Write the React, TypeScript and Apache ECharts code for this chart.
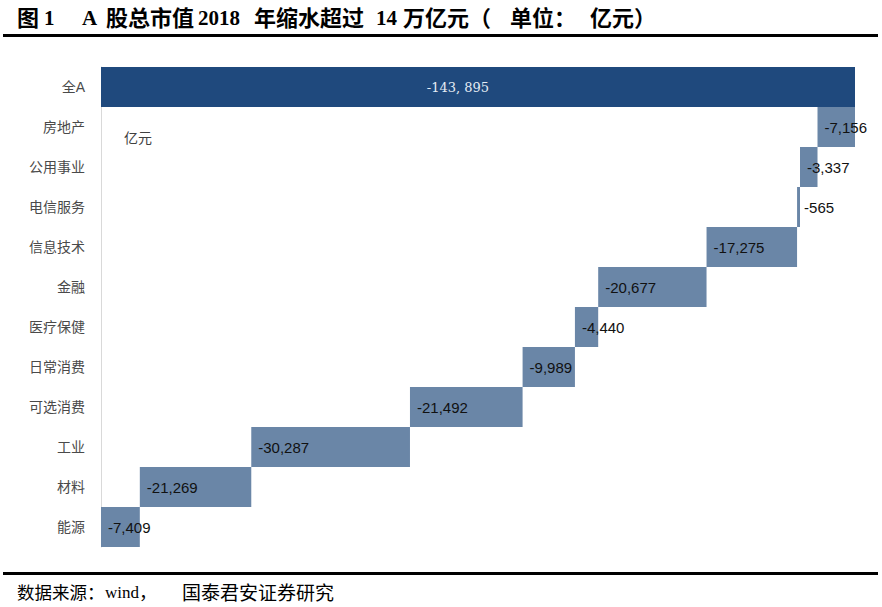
import React, { useEffect, useRef } from 'react';
import * as echarts from 'echarts';

const categories = ['全A', '房地产', '公用事业', '电信服务', '信息技术', '金融', '医疗保健', '日常消费', '可选消费', '工业', '材料', '能源'];
const changes = [-143895, -7156, -3337, -565, -17275, -20677, -4440, -9989, -21492, -30287, -21269, -7409];

// title / source split into runs so the spacing follows the original typesetting
const titleRuns: [string, number, number][] = [
  ['图', 17, 22], ['1', 44, 21], ['A', 82, 21], ['股总市值', 106, 22], ['2018', 198, 21],
  ['年缩水超过', 254, 22], ['14', 376, 21], ['万亿元（', 403, 22], ['单位：', 510, 22], ['亿元）', 590, 22],
];
const sourceRuns: [string, number, number][] = [
  ['数据来源：', 17, 17.5], ['wind', 105, 17], ['，', 139, 18], ['国泰君安证券研究', 182, 19],
];
const UNIT = '亿元';

const SERIF = "'Liberation Serif', 'Times New Roman', 'Noto Sans CJK SC', serif";
const SANS = "'Liberation Sans', Arial, 'Noto Sans CJK SC', sans-serif";

const App: React.FC = () => {
  const chartRef = useRef<HTMLDivElement>(null);

  useEffect(() => {
    if (!chartRef.current) return;
    const chart = echarts.init(chartRef.current, undefined, { renderer: 'svg' });

    // waterfall: each sector starts where the sectors below it end
    const base = categories.map((_, i) => {
      if (i === 0) return 0;
      let s = 0;
      for (let j = i + 1; j < changes.length; j++) s += Math.abs(changes[j]);
      return s;
    });
    const total = Math.abs(changes[0]);

    const option: echarts.EChartsOption = {
      animation: false,
      grid: { left: 101, right: 882 - 855, top: 67, height: 480, containLabel: false },
      xAxis: {
        type: 'value',
        min: 0,
        max: total,
        show: false,
      },
      yAxis: {
        type: 'category',
        data: categories,
        inverse: true,
        axisTick: { show: false },
        axisLine: { show: true, lineStyle: { color: '#D9D9D9', width: 1 } },
        axisLabel: { color: '#4A4A4A', fontSize: 14, margin: 16, fontFamily: SANS },
      },
      series: [
        {
          type: 'bar',
          stack: 'w',
          silent: true,
          itemStyle: { color: 'transparent' },
          data: base,
          barCategoryGap: '0%',
        },
        {
          type: 'bar',
          stack: 'w',
          barCategoryGap: '0%',
          data: changes.map((v, i) => ({
            value: Math.abs(v),
            itemStyle: { color: i === 0 ? '#1F497D' : '#6A86A7' },
            label:
              i === 0
                ? {
                    show: true,
                    position: 'inside',
                    offset: [-20, 0],
                    color: '#E6ECF4',
                    fontFamily: "'DejaVu Serif', 'Liberation Serif', serif",
                    fontSize: 13,
                    formatter: () => v.toLocaleString('en-US').replace(',', ', '),
                  }
                : {
                    show: true,
                    position: 'insideLeft',
                    distance: 7,
                    color: '#111111',
                    fontFamily: SANS,
                    fontSize: 15,
                    formatter: () => v.toLocaleString('en-US'),
                  },
          })),
        },
      ],
      graphic: [
        ...titleRuns.map(([t, x, size]) => ({
          type: 'text' as const,
          left: x,
          top: 7,
          style: { text: t, font: `bold ${size}px ${SERIF}`, fill: '#000' },
        })),
        {
          type: 'rect',
          shape: { x: 3, y: 34, width: 875, height: 3 },
          style: { fill: '#000' },
        },
        {
          type: 'text',
          left: 124,
          top: 131,
          style: { text: UNIT, font: `14px ${SANS}`, fill: '#404040' },
        },
        {
          type: 'rect',
          shape: { x: 3, y: 572, width: 875, height: 3 },
          style: { fill: '#000' },
        },
        ...sourceRuns.map(([t, x, size]) => ({
          type: 'text' as const,
          left: x,
          top: 584,
          style: { text: t, font: `${size}px ${SERIF}`, fill: '#000' },
        })),
      ],
    };

    chart.setOption(option);
    return () => {
      chart.dispose();
    };
  }, []);

  return (
    <div
      ref={chartRef}
      style={{ position: 'fixed', left: 0, top: 0, width: '882px', height: '607px', background: '#fff' }}
    ></div>
  );
};

export default App;
